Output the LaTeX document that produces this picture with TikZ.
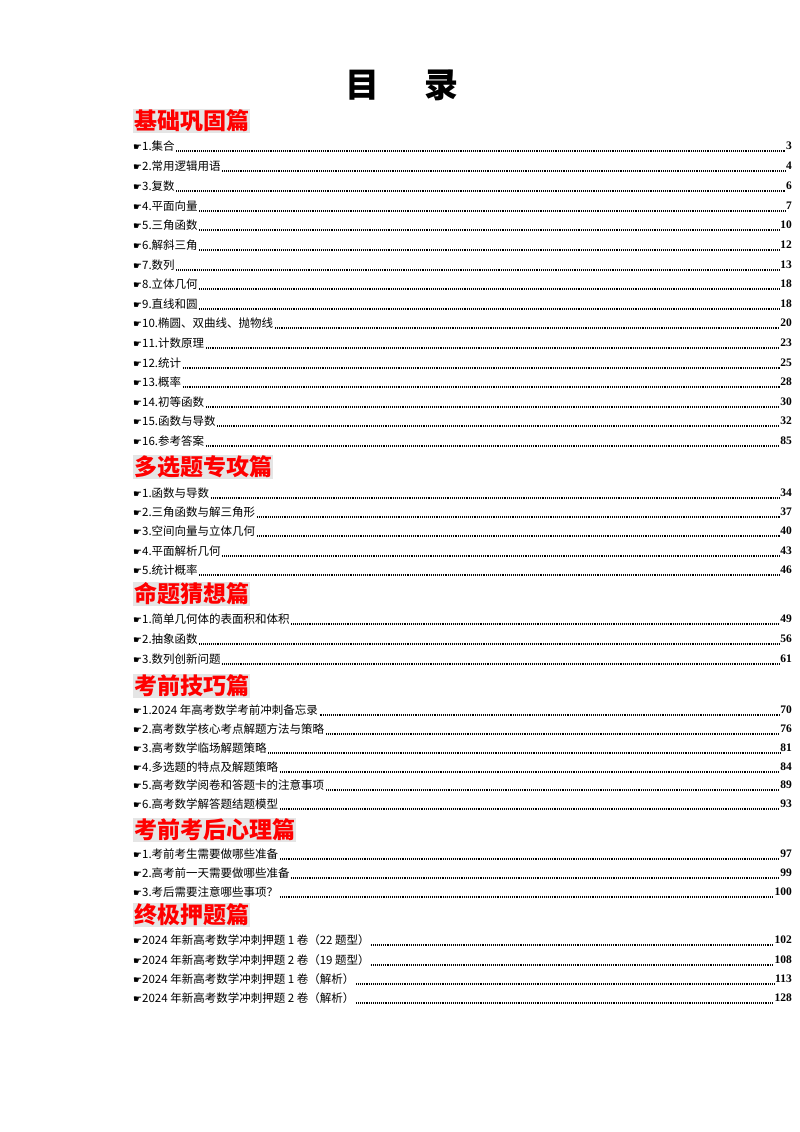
\documentclass[tikz,border=0pt]{standalone}
\usepackage{fontspec}
\setmainfont{Liberation Serif}
\newfontfamily\cjk{Noto Sans CJK SC}
\newfontfamily\symf{DejaVu Sans}
\tikzset{
 entry/.style={anchor=west,inner sep=0pt,font=\cjk\fontsize{11.5}{12}\selectfont},
 pg/.style={anchor=east,inner sep=0pt,font=\bfseries\fontsize{11.5}{12}\selectfont},
 lead/.style={line width=1.4pt,dash pattern=on 1pt off 0.9pt,shorten <=1.5pt,shorten >=0.5pt},
 sect/.style={anchor=west,fill=black!10,text=red,inner sep=1pt,font=\cjk\bfseries\fontsize{23}{24}\selectfont}
}
\newcommand\tocentry[4]{%
 \node[entry] (#1t) at (133,#2) {{\symf\fontsize{10}{10}\selectfont ☛}#3};
 \node[pg] (#1p) at (792,#2) {#4};
 \draw[lead] ([yshift=-5pt]#1t.east) -- ([yshift=-5pt]#1p.west|-#1t.east);}
\begin{document}
\begin{tikzpicture}[x=1pt,y=-1pt]
\useasboundingbox (0,0) rectangle (800,1132);
\node[font=\cjk\bfseries\fontsize{34}{36}\selectfont] (title) at (402,85) {目\hspace{1.3em}录};
\node[sect] (s1) at (133,121) {基础巩固篇};
\tocentry{a1}{146}{1.集合}{3}
\tocentry{a2}{166}{2.常用逻辑用语}{4}
\tocentry{a3}{186}{3.复数}{6}
\tocentry{a4}{206}{4.平面向量}{7}
\tocentry{a5}{225}{5.三角函数}{10}
\tocentry{a6}{245}{6.解斜三角}{12}
\tocentry{a7}{265}{7.数列}{13}
\tocentry{a8}{284}{8.立体几何}{18}
\tocentry{a9}{304}{9.直线和圆}{18}
\tocentry{a10}{323}{10.椭圆、双曲线、抛物线}{20}
\tocentry{a11}{343}{11.计数原理}{23}
\tocentry{a12}{363}{12.统计}{25}
\tocentry{a13}{382}{13.概率}{28}
\tocentry{a14}{402}{14.初等函数}{30}
\tocentry{a15}{421}{15.函数与导数}{32}
\tocentry{a16}{441}{16.参考答案}{85}
\node[sect] (s2) at (133,467) {多选题专攻篇};
\tocentry{b1}{493}{1.函数与导数}{34}
\tocentry{b2}{512}{2.三角函数与解三角形}{37}
\tocentry{b3}{531}{3.空间向量与立体几何}{40}
\tocentry{b4}{551}{4.平面解析几何}{43}
\tocentry{b5}{570}{5.统计概率}{46}
\node[sect] (s3) at (133,594) {命题猜想篇};
\tocentry{c1}{619}{1.简单几何体的表面积和体积}{49}
\tocentry{c2}{639}{2.抽象函数}{56}
\tocentry{c3}{659}{3.数列创新问题}{61}
\node[sect] (s4) at (133,686) {考前技巧篇};
\tocentry{d1}{710}{1.2024 年高考数学考前冲刺备忘录}{70}
\tocentry{d2}{729}{2.高考数学核心考点解题方法与策略}{76}
\tocentry{d3}{748}{3.高考数学临场解题策略 }{81}
\tocentry{d4}{767}{4.多选题的特点及解题策略}{84}
\tocentry{d5}{785}{5.高考数学阅卷和答题卡的注意事项 }{89}
\tocentry{d6}{804}{6.高考数学解答题结题模型}{93}
\node[sect] (s5) at (133,830) {考前考后心理篇};
\tocentry{e1}{854}{1.考前考生需要做哪些准备}{97}
\tocentry{e2}{873}{2.高考前一天需要做哪些准备}{99}
\tocentry{e3}{892}{3.考后需要注意哪些事项？}{100}
\node[sect] (s6) at (133,915) {终极押题篇};
\tocentry{f1}{940}{2024 年新高考数学冲刺押题 1 卷（22 题型）}{102}
\tocentry{f2}{960}{2024 年新高考数学冲刺押题 2 卷（19 题型）}{108}
\tocentry{f3}{979}{2024 年新高考数学冲刺押题 1 卷（解析）}{113}
\tocentry{f4}{998}{2024 年新高考数学冲刺押题 2 卷（解析）}{128}
\end{tikzpicture}
\end{document}
